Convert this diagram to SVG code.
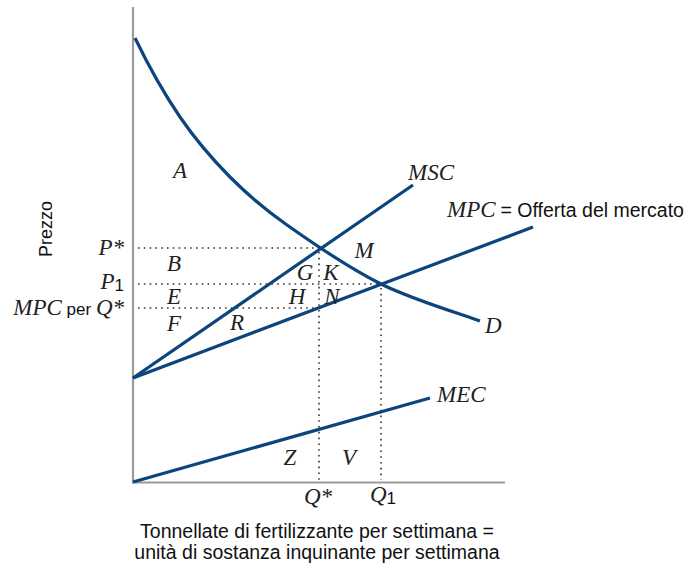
<svg xmlns="http://www.w3.org/2000/svg" width="692" height="566" viewBox="0 0 692 566">
<style>
.ax{stroke:#9a9a9a;stroke-width:2.2;fill:none}
.cv{stroke:#0b457c;stroke-width:3.2;fill:none;stroke-linecap:butt}
.dt{stroke:#333;stroke-width:1.6;stroke-dasharray:1.6 4.2;fill:none}
.it{font-family:"Liberation Serif",serif;font-style:italic;font-size:23px;fill:#222}
.sn{font-family:"Liberation Sans",Arial,sans-serif;font-size:19.5px;fill:#111}
.sb{font-family:"Liberation Sans",Arial,sans-serif;font-size:17px;fill:#111}
</style>
<rect width="692" height="566" fill="#fff"/>
<g id="axes">
<line class="ax" x1="133" y1="7" x2="133" y2="483.5"/>
<line class="ax" x1="132" y1="482.5" x2="505" y2="482.5"/>
</g>
<g id="guides">
<line class="dt" x1="138" y1="248" x2="319" y2="248"/>
<line class="dt" x1="138" y1="284" x2="381" y2="284"/>
<line class="dt" x1="138" y1="308" x2="319" y2="308"/>
<line class="dt" x1="319" y1="252" x2="319" y2="480"/>
<line class="dt" x1="381" y1="288" x2="381" y2="480"/>
</g>
<g id="connectors">
<path id="D" class="cv" d="M135,38 C150,69 164.2,93.8 180,117 C195.8,140.2 212.2,159 230,177 C247.8,195 261.8,207.2 287,225 C312.2,242.8 348.8,268 381,284 C413.2,300 463.5,314.8 480,321"/>
<line id="MSC" class="cv" x1="133" y1="378" x2="413" y2="185"/>
<line id="MPC" class="cv" x1="133" y1="378" x2="533" y2="227"/>
<line id="MEC" class="cv" x1="133" y1="482" x2="430" y2="398"/>
</g>
<g id="curve-labels">
<text class="it" x="408" y="180">MSC</text>
<text x="447" y="217"><tspan class="it">MPC</tspan><tspan class="sn" dx="5">= Offerta del mercato</tspan></text>
<text class="it" x="485" y="333">D</text>
<text class="it" x="437" y="402">MEC</text>
</g>
<g id="axis-labels">
<text class="sb" style="font-size:18px" transform="translate(52,229) rotate(-90)" text-anchor="middle">Prezzo</text>
<text class="it" x="124" y="255" text-anchor="end">P*</text>
<text x="124" y="289" text-anchor="end"><tspan class="it">P</tspan><tspan class="sb" dy="2">1</tspan></text>
<text x="124" y="315" text-anchor="end"><tspan class="it">MPC</tspan><tspan class="sb"> per </tspan><tspan class="it">Q*</tspan></text>
<text class="it" x="318" y="504" text-anchor="middle">Q*</text>
<text x="383" y="502" text-anchor="middle"><tspan class="it">Q</tspan><tspan class="sb" dy="2">1</tspan></text>
<text class="sn" x="317" y="538" text-anchor="middle">Tonnellate di fertilizzante per settimana =</text>
<text class="sn" x="317" y="559" text-anchor="middle">unità di sostanza inquinante per settimana</text>
</g>
<g id="areas">
<text class="it" x="180" y="178" text-anchor="middle">A</text>
<text class="it" x="174" y="271" text-anchor="middle">B</text>
<text class="it" x="174" y="304" text-anchor="middle">E</text>
<text class="it" x="174" y="331" text-anchor="middle">F</text>
<text class="it" x="237" y="330" text-anchor="middle">R</text>
<text class="it" x="305" y="280" text-anchor="middle">G</text>
<text class="it" x="331" y="280" text-anchor="middle">K</text>
<text class="it" x="297" y="304" text-anchor="middle">H</text>
<text class="it" x="332" y="304" text-anchor="middle">N</text>
<text class="it" x="364" y="258" text-anchor="middle">M</text>
<text class="it" x="290" y="465" text-anchor="middle">Z</text>
<text class="it" x="349" y="465" text-anchor="middle">V</text>
</g>
</svg>
